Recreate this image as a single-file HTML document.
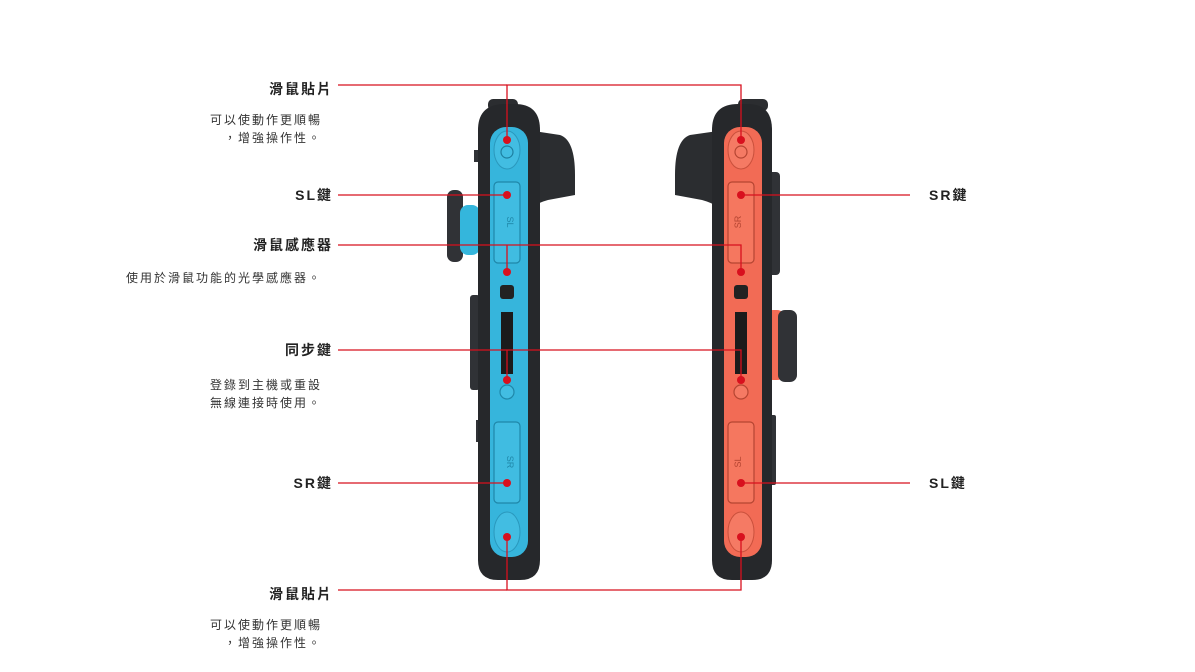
<!DOCTYPE html>
<html><head><meta charset="utf-8"><style>
body{margin:0;background:#fff;width:1195px;height:672px;overflow:hidden;position:relative;font-family:"Liberation Sans","Noto Sans CJK TC",sans-serif;color:#222}
.t{position:absolute;white-space:nowrap;line-height:18px}
.h{font-size:14px;font-weight:bold;letter-spacing:2px}
.d{font-size:12px;letter-spacing:2px;line-height:18px;color:#333}
.r{text-align:right}
svg{position:absolute;left:0;top:0}
</style></head><body>
<svg width="1195" height="672" viewBox="0 0 1195 672">
<g>
<path d="M527 130 L560 135 Q575 140 575 175 L575 195 L548 200 Q530 205 527 215 Z" fill="#2b2d30"/>
<rect x="447" y="190" width="16" height="72" rx="7" fill="#303236"/>
<rect x="460" y="205" width="20" height="50" rx="8" fill="#34b6dc"/>
<rect x="470" y="295" width="10" height="95" rx="3" fill="#303236"/>
<rect x="474" y="150" width="4" height="12" fill="#303236"/>
<rect x="476" y="420" width="4" height="22" fill="#303236"/>
<rect x="488" y="99" width="30" height="12" rx="5" fill="#2b2d30"/>
<path d="M478 130 Q478 104 505 104 L515 104 Q540 104 540 130 L540 560 Q540 580 520 580 L498 580 Q478 580 478 560 Z" fill="#26282b"/>
<rect x="490" y="127" width="38" height="430" rx="16" fill="#36b5dc"/>
<ellipse cx="507" cy="150" rx="13" ry="19" fill="#42bde2" stroke="#2a98bd" stroke-width="1"/>
<circle cx="507" cy="152" r="6" fill="none" stroke="#1d7fa0" stroke-width="1.2"/>
<rect x="494" y="182" width="26" height="81" rx="4" fill="#40bce1" stroke="#1f87a9" stroke-width="1.2"/>
<text x="507" y="222" font-size="9" fill="#1f87a9" transform="rotate(90 507 222)" text-anchor="middle">SL</text>
<rect x="500" y="285" width="14" height="14" rx="3" fill="#222"/>
<rect x="501" y="312" width="12" height="62" fill="#1b1b1b"/>
<circle cx="507" cy="392" r="7" fill="#42bde2" stroke="#1f87a9" stroke-width="1.2"/>
<rect x="494" y="422" width="26" height="81" rx="4" fill="#40bce1" stroke="#1f87a9" stroke-width="1.2"/>
<text x="507" y="462" font-size="9" fill="#1f87a9" transform="rotate(90 507 462)" text-anchor="middle">SR</text>
<ellipse cx="507" cy="532" rx="13" ry="20" fill="#42bde2" stroke="#2a98bd" stroke-width="1"/>
</g>
<g>
<path d="M725 130 L690 135 Q675 140 675 175 L675 195 L702 200 Q720 205 725 215 Z" fill="#2b2d30"/>
<rect x="767" y="172" width="13" height="103" rx="4" fill="#303236"/>
<rect x="765" y="310" width="20" height="70" rx="8" fill="#f26b55"/>
<rect x="778" y="310" width="19" height="72" rx="7" fill="#303236"/>
<rect x="770" y="415" width="6" height="70" rx="2" fill="#303236"/>
<rect x="738" y="99" width="30" height="12" rx="5" fill="#2b2d30"/>
<path d="M712 130 Q712 104 738 104 L748 104 Q772 104 772 130 L772 560 Q772 580 752 580 L732 580 Q712 580 712 560 Z" fill="#26282b"/>
<rect x="724" y="127" width="38" height="430" rx="16" fill="#f26b55"/>
<ellipse cx="741" cy="150" rx="13" ry="19" fill="#f57a64" stroke="#c9503c" stroke-width="1"/>
<circle cx="741" cy="152" r="6" fill="none" stroke="#b54532" stroke-width="1.2"/>
<rect x="728" y="182" width="26" height="81" rx="4" fill="#f5775f" stroke="#b54532" stroke-width="1.2"/>
<text x="741" y="222" font-size="9" fill="#b54532" transform="rotate(-90 741 222)" text-anchor="middle">SR</text>
<rect x="734" y="285" width="14" height="14" rx="3" fill="#222"/>
<rect x="735" y="312" width="12" height="62" fill="#1b1b1b"/>
<circle cx="741" cy="392" r="7" fill="#f57a64" stroke="#b54532" stroke-width="1.2"/>
<rect x="728" y="422" width="26" height="81" rx="4" fill="#f5775f" stroke="#b54532" stroke-width="1.2"/>
<text x="741" y="462" font-size="9" fill="#b54532" transform="rotate(-90 741 462)" text-anchor="middle">SL</text>
<ellipse cx="741" cy="532" rx="13" ry="20" fill="#f57a64" stroke="#c9503c" stroke-width="1"/>
</g>
<g stroke="#d8101e" stroke-width="1.3" fill="none">
<polyline points="507,140 507,85 741,85 741,140"/>
<line x1="338" y1="85" x2="507" y2="85"/>
<line x1="338" y1="195" x2="507" y2="195"/>
<polyline points="338,245 741,245 741,272"/>
<line x1="507" y1="245" x2="507" y2="272"/>
<polyline points="338,350 741,350 741,380"/>
<line x1="507" y1="350" x2="507" y2="380"/>
<line x1="338" y1="483" x2="507" y2="483"/>
<polyline points="507,537 507,590 741,590 741,537"/>
<line x1="338" y1="590" x2="507" y2="590"/>
<line x1="741" y1="195" x2="910" y2="195"/>
<line x1="741" y1="483" x2="910" y2="483"/>
</g>
<g fill="#d8101e">
<circle cx="507" cy="140" r="4"/><circle cx="507" cy="195" r="4"/><circle cx="507" cy="272" r="4"/><circle cx="507" cy="380" r="4"/><circle cx="507" cy="483" r="4"/><circle cx="507" cy="537" r="4"/>
<circle cx="741" cy="140" r="4"/><circle cx="741" cy="195" r="4"/><circle cx="741" cy="272" r="4"/><circle cx="741" cy="380" r="4"/><circle cx="741" cy="483" r="4"/><circle cx="741" cy="537" r="4"/>
</g>
</svg>
<div class="t h r" style="right:862px;top:80px">滑鼠貼片</div>
<div class="t d r" style="right:873px;top:111px">可以使動作更順暢<br>，增強操作性。</div>
<div class="t h r" style="right:862px;top:186px">SL鍵</div>
<div class="t h r" style="right:862px;top:236px">滑鼠感應器</div>
<div class="t d r" style="right:873px;top:269px">使用於滑鼠功能的光學感應器。</div>
<div class="t h r" style="right:862px;top:341px">同步鍵</div>
<div class="t d r" style="right:873px;top:376px">登錄到主機或重設<br>無線連接時使用。</div>
<div class="t h r" style="right:862px;top:474px">SR鍵</div>
<div class="t h r" style="right:862px;top:585px">滑鼠貼片</div>
<div class="t d r" style="right:873px;top:616px">可以使動作更順暢<br>，增強操作性。</div>
<div class="t h" style="left:929px;top:186px">SR鍵</div>
<div class="t h" style="left:929px;top:474px">SL鍵</div>
</body></html>
